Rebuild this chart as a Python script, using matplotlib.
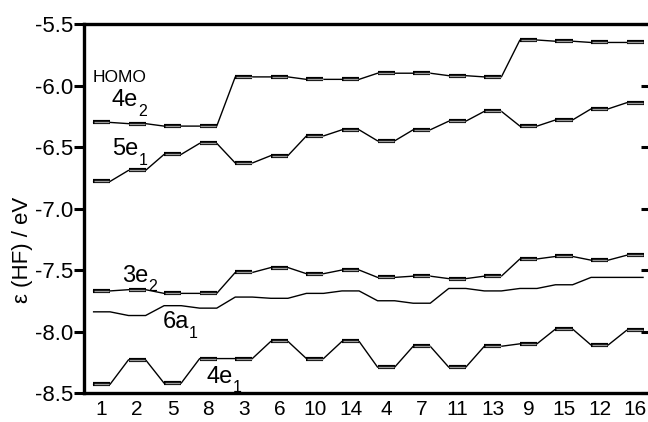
import numpy as np
import matplotlib
matplotlib.use("Agg")
import matplotlib.pyplot as plt

plt.rcParams['font.family'] = ['Liberation Sans', 'DejaVu Sans']

# isomer order along the x axis
isomers = ["1", "2", "5", "8", "3", "6", "10", "14", "4", "7", "11", "13", "9", "15", "12", "16"]

# orbital energies (eV)
e_4e2 = [-6.30, -6.31, -6.33, -6.33, -5.93, -5.93, -5.95, -5.95,
         -5.90, -5.90, -5.92, -5.93, -5.63, -5.64, -5.65, -5.65]
e_5e1 = [-6.78, -6.69, -6.56, -6.47, -6.63, -6.57, -6.41, -6.36,
         -6.45, -6.36, -6.29, -6.21, -6.33, -6.28, -6.19, -6.14]
e_3e2 = [-7.67, -7.66, -7.69, -7.69, -7.52, -7.48, -7.53, -7.50,
         -7.56, -7.55, -7.57, -7.55, -7.41, -7.39, -7.42, -7.38]
e_6a1 = [-7.84, -7.87, -7.79, -7.81, -7.72, -7.73, -7.69, -7.67,
         -7.75, -7.77, -7.65, -7.67, -7.65, -7.62, -7.56, -7.56]
e_4e1 = [-8.43, -8.23, -8.42, -8.22, -8.22, -8.08, -8.22, -8.08,
         -8.29, -8.12, -8.29, -8.12, -8.10, -7.98, -8.11, -7.99]

yticks = [-5.5, -6.0, -6.5, -7.0, -7.5, -8.0, -8.5]
ytick_labels = ["-5.5", "-6.0", "-6.5", "-7.0", "-7.5", "-8.0", "-8.5"]

# orbital labels: (main text, subscript, x, y)
orbital_labels = [
    ("4e", "2", 0.295, -6.167),
    ("5e", "1", 0.31, -6.565),
    ("3e", "2", 0.57, -7.595),
    ("6a", "1", 1.71, -7.974),
    ("4e", "1", 2.96, -8.416),
]

fig = plt.figure(figsize=(6.48, 4.22), dpi=100)
ax = fig.add_axes([0.1300, 0.0687, 0.8700, 0.8744])

pos = np.arange(len(isomers))
hw = 0.24  # half width of a level bar

# connecting lines (flat over each level, sloped between levels)
for vals in [e_4e2, e_5e1, e_3e2, e_6a1, e_4e1]:
    xs = np.column_stack([pos - hw, pos + hw]).ravel()
    ys = np.repeat(vals, 2)
    ax.plot(xs, ys, color='black', lw=1.0, solid_capstyle='butt')

# level bars: black outline with grey core
for vals in [e_4e2, e_5e1, e_3e2, e_4e1]:
    ax.hlines(vals, pos - hw, pos + hw, colors='black', lw=3.0)
    ax.hlines(vals, pos - hw + 0.02, pos + hw - 0.02, colors='#9a9a9a', lw=1.0)

ax.set_xlim(-0.484, 15.36)
ax.set_ylim(-8.5, -5.5)

ax.set_xticks(pos, isomers)
ax.set_yticks(yticks, ytick_labels)
ax.tick_params(axis='x', length=0, pad=5, labelsize=15)
ax.tick_params(axis='y', direction='out', length=7, width=2.2, pad=1, labelsize=16)

for side in ['left', 'bottom', 'top']:
    ax.spines[side].set_linewidth(2.4)
ax.spines['right'].set_visible(False)

# right-hand ticks pointing inward
ax2 = ax.twinx()
ax2.set_ylim(-8.5, -5.5)
ax2.set_yticks(yticks)
ax2.tick_params(axis='y', direction='in', length=5, width=2.2, labelright=False)
for s in ax2.spines.values():
    s.set_visible(False)

ax.set_ylabel("ε (HF) / eV", fontsize=16, rotation=90, va='center', ha='center')
ax.yaxis.set_label_coords(-0.110, 0.3875)

ax.text(-0.24, -5.972, "HOMO", fontsize=12.5, ha='left', va='baseline')
for main, sub, x, y in orbital_labels:
    t = ax.text(x, y, main, fontsize=17, ha='left', va='baseline')
    ax.annotate(sub, xy=(1.0, 0.0), xycoords=t, xytext=(0, -3.3),
                textcoords='offset points', fontsize=11.5, ha='left', va='baseline')

fig.savefig("out.png", dpi=100)
